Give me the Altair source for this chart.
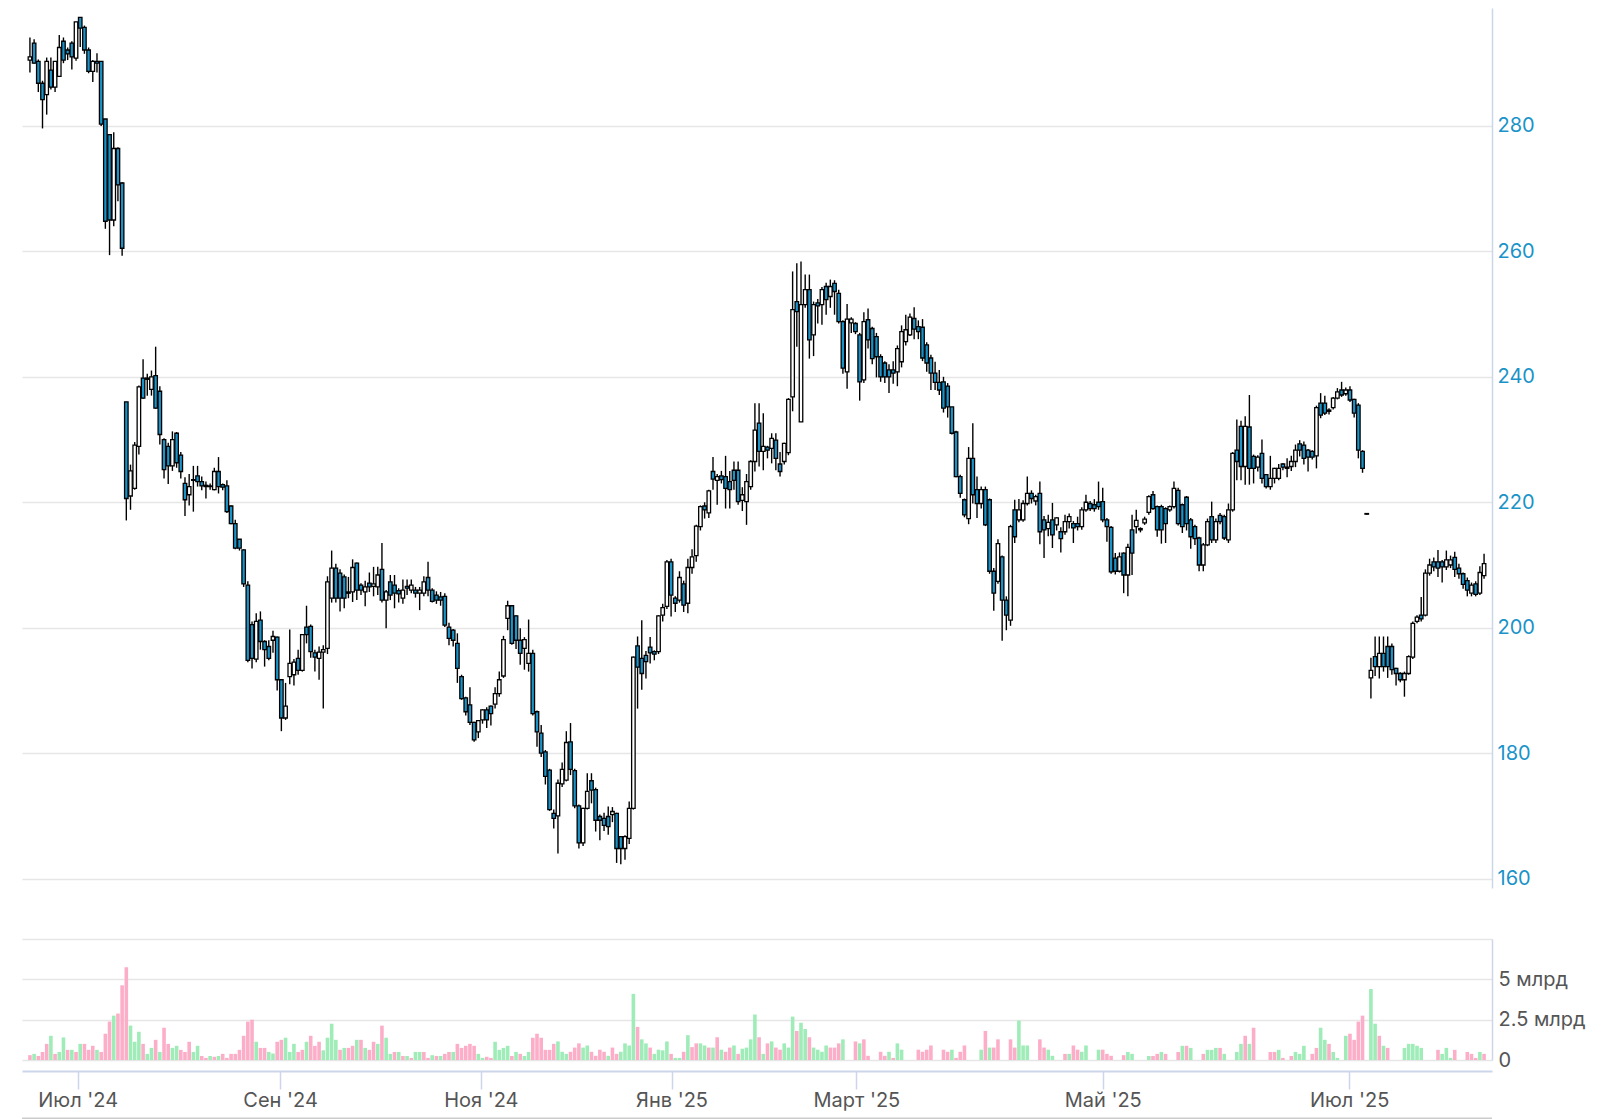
"""Candlestick price chart with volume panel (Jun 2024 - Aug 2025)"""

import altair as alt
import pandas as pd

# --- price candles (one value per trading session) ---
opens = [
    290.5, 293.2, 290.3, 286.8, 285.0, 288.9, 286.2, 287.9, 293.5, 292.1,
    293.2, 290.8, 297.3, 295.7, 292.1, 288.7, 290.3, 290.3, 281.1, 278.6,
    265.0, 276.4, 270.9, 236.0, 221.0, 222.2, 228.9, 239.8, 239.8, 238.0,
    240.2, 237.7, 230.0, 228.9, 225.8, 231.0, 227.5, 223.0, 221.2, 223.6,
    224.2, 223.3, 222.7, 222.6, 222.0, 224.9, 222.8, 222.6, 219.4, 216.6,
    214.1, 212.4, 206.8, 200.5, 195.0, 201.2, 197.8, 197.0, 198.0, 198.5,
    191.7, 185.6, 192.2, 192.5, 195.1, 193.2, 200.1, 200.2, 196.0, 195.1,
    196.1, 196.7, 204.7, 209.5, 208.7, 208.1, 205.7, 205.7, 210.3, 206.8,
    205.7, 207.1, 206.6, 206.5, 209.3, 204.4, 207.3, 206.8, 205.9, 204.7,
    206.6, 206.0, 206.0, 205.5, 205.5, 208.0, 206.0, 205.2, 204.9, 205.0,
    200.1, 199.6, 197.5, 192.2, 188.8, 187.7, 184.9, 183.4, 185.3, 186.9,
    187.5, 187.8, 189.5, 192.3, 201.5, 203.5, 201.9, 198.0, 196.7, 194.3,
    195.9, 186.6, 183.2, 180.2, 177.3, 170.4, 170.0, 175.1, 175.7, 181.8,
    177.2, 171.6, 165.7, 171.2, 175.6, 174.2, 169.9, 169.6, 169.9, 170.2,
    170.4, 166.7, 164.8, 166.4, 171.2, 197.1, 195.1, 195.6, 196.9, 196.2,
    196.2, 202.0, 203.4, 210.5, 204.7, 204.4, 207.0, 203.9, 209.6, 211.5, 216.1, 219.4,
    218.3, 224.9, 223.5, 224.2, 224.1, 223.3, 225.1, 225.1, 220.3, 220.1, 222.5,
    226.5, 232.6, 228.1, 228.8, 228.6, 229.9, 226.1, 226.5, 227.9, 236.8,
    252.0, 232.8, 251.5, 253.9, 246.7, 251.8, 251.5, 254.4, 252.8, 254.9,
    253.3, 248.8, 240.8, 248.6, 248.5, 246.7, 239.5, 249.1, 247.7, 246.4,
    243.2, 242.2, 241.1, 241.1, 240.8, 242.4, 245.6, 246.7, 249.3, 248.0,
    247.9, 245.1, 243.0, 240.6, 239.1, 239.2, 238.5, 235.2, 231.2, 224.1,
    220.4, 217.4, 227.0, 222.0, 219.8, 222.0, 220.4, 209.0, 207.4, 211.3,
    204.4, 201.2, 218.8, 217.2, 217.2, 219.8, 221.4, 220.2, 221.4, 217.2,
    215.8, 217.2, 216.4, 215.3, 215.3, 216.9, 216.6, 216.6, 216.1, 218.8,
    219.8, 219.6, 220.0, 220.1, 217.2, 216.0, 211.1, 209.0, 211.9, 208.4,
    215.6, 216.1, 215.6, 216.7, 218.4, 221.2, 219.3, 219.3, 219.0, 218.8,
    219.3, 221.9, 219.6, 220.8, 217.2, 216.1, 214.3, 210.0, 213.2, 217.7,
    214.0, 217.9, 217.7, 214.0, 218.8, 228.3, 232.1, 225.7, 232.0, 227.3,
    225.6, 227.8, 224.4, 222.5, 223.8, 223.8, 226.1, 225.6, 225.7,
    226.5, 229.3, 229.1, 228.3, 228.1, 227.4, 235.8, 235.8, 234.7,
    235.1, 236.6, 237.9, 237.3, 237.9, 236.4, 235.5, 228.1, 218.1,
    192.0, 195.4, 193.8, 195.9, 197.0, 197.0, 193.5, 192.7, 191.7, 192.7,
    195.3, 201.0, 202.0, 202.0, 208.7, 210.5, 210.5, 210.5, 209.7, 210.0,
    211.2, 209.5, 208.6, 207.5, 205.5, 207.0, 205.5, 208.3,
]
highs = [
    294.1, 293.8, 290.6, 287.2, 290.9, 290.9, 290.3, 294.5, 294.1, 292.5,
    293.5, 296.6, 297.3, 296.0, 292.5, 290.5, 291.6, 290.3, 281.1, 278.6,
    279.0, 276.6, 271.0, 236.0, 226.0, 229.6, 238.6, 242.8, 240.5, 241.0,
    244.8, 238.5, 230.2, 229.5, 231.3, 231.2, 228.0, 224.0, 224.5, 225.8,
    225.8, 224.1, 223.3, 223.0, 225.5, 227.2, 223.0, 223.5, 219.5, 217.2,
    214.1, 212.5, 207.4, 201.0, 202.3, 202.6, 198.0, 198.0, 199.5, 198.6,
    191.8, 191.2, 199.7, 195.0, 196.5, 199.0, 203.5, 200.5, 196.5, 197.0,
    197.2, 208.2, 212.3, 210.2, 209.3, 208.5, 208.1, 210.9, 210.4, 207.1,
    207.5, 208.8, 209.7, 209.7, 213.5, 206.0, 208.4, 208.4, 206.3, 207.7,
    207.7, 207.7, 206.5, 206.5, 208.2, 210.5, 206.3, 205.8, 205.7, 205.5,
    200.8, 199.8, 199.1, 192.5, 189.0, 190.5, 185.0, 185.2, 187.0, 187.3,
    187.6, 190.5, 193.0, 198.7, 204.3, 203.6, 202.0, 199.9, 198.5, 201.3,
    196.5, 186.8, 184.5, 180.5, 177.5, 171.0, 175.8, 178.5, 183.5, 184.8,
    177.5, 171.8, 171.3, 176.8, 176.8, 174.5, 170.2, 170.5, 171.5, 171.4,
    170.5, 166.8, 166.9, 172.3, 195.4, 198.6, 201.2, 196.3, 198.5, 196.4,
    202.0, 203.8, 210.8, 211.0, 205.0, 209.0, 207.5, 211.0, 212.5, 216.4, 219.5, 220.0,
    222.0, 227.2, 224.5, 225.0, 227.4, 225.0, 226.5, 226.5, 222.4, 224.5, 226.7,
    235.8, 235.8, 234.2, 229.0, 231.0, 231.0, 228.0, 229.5, 236.6, 256.8,
    258.1, 258.4, 256.3, 256.3, 252.0, 252.4, 254.3, 255.0, 255.5, 255.4,
    253.9, 249.0, 251.6, 249.5, 248.7, 247.0, 250.3, 250.9, 248.0, 247.0,
    243.6, 242.5, 242.0, 242.5, 245.0, 248.2, 249.9, 250.1, 251.1, 249.0,
    249.2, 245.5, 243.5, 242.4, 241.1, 240.0, 239.0, 235.2, 231.4, 224.4,
    220.6, 228.8, 232.6, 224.1, 222.5, 222.5, 220.6, 209.5, 214.1, 211.5,
    205.0, 216.4, 220.4, 220.5, 220.3, 224.1, 221.9, 221.2, 223.3, 217.8,
    218.0, 219.9, 217.6, 216.0, 218.0, 218.2, 217.0, 217.7, 219.2, 221.2,
    220.2, 220.5, 223.3, 222.3, 217.5, 216.2, 211.9, 212.0, 212.0, 213.4,
    218.0, 218.8, 216.0, 217.7, 221.1, 221.8, 219.5, 219.6, 219.2, 219.5,
    223.3, 222.3, 219.8, 221.0, 217.5, 216.4, 214.5, 213.5, 217.4, 220.1,
    217.4, 218.3, 218.0, 219.8, 228.0, 233.2, 233.0, 233.7, 237.1, 227.6,
    227.5, 230.0, 224.5, 227.4, 225.5, 226.1, 226.2, 227.0, 227.4,
    229.2, 229.9, 229.7, 228.5, 228.3, 235.4, 237.4, 237.0, 235.0,
    236.8, 238.2, 239.2, 238.3, 238.5, 236.5, 235.8, 228.3, 218.2,
    195.2, 198.6, 198.6, 198.6, 198.6, 197.5, 193.6, 192.9, 193.0, 195.6,
    201.0, 202.0, 204.9, 209.3, 211.0, 211.2, 212.4, 210.8, 212.3, 211.5,
    212.1, 210.2, 208.8, 208.0, 207.2, 207.4, 209.8, 211.8,
]
lows = [
    288.5, 289.9, 285.4, 279.6, 281.8, 285.8, 285.4, 287.9, 290.0, 290.5,
    289.0, 290.4, 292.6, 291.5, 288.4, 287.0, 288.5, 280.0, 263.6, 259.4,
    264.0, 268.0, 259.3, 217.1, 218.8, 222.0, 227.6, 236.5, 237.0, 237.0,
    234.9, 229.2, 223.8, 222.9, 225.0, 225.5, 223.8, 217.8, 219.5, 218.5,
    222.5, 221.9, 220.6, 222.0, 221.9, 221.4, 221.9, 218.3, 216.5, 212.5,
    212.3, 206.5, 194.5, 193.5, 194.5, 196.5, 193.8, 194.8, 196.0, 190.0,
    183.5, 185.3, 191.0, 190.8, 192.5, 193.0, 197.5, 195.2, 193.0, 191.7,
    187.1, 195.8, 204.0, 204.0, 202.6, 203.1, 204.7, 204.1, 204.4, 205.2,
    203.4, 205.7, 205.0, 205.2, 204.0, 199.9, 204.4, 203.1, 204.0, 203.8,
    205.2, 205.5, 204.8, 202.8, 205.0, 205.0, 204.0, 203.8, 203.5, 200.1,
    197.2, 197.0, 191.2, 188.5, 186.0, 184.5, 181.8, 182.4, 184.7, 184.0,
    184.4, 187.1, 189.0, 192.0, 199.6, 197.3, 196.6, 194.1, 193.3, 193.0,
    186.0, 181.0, 179.4, 175.0, 170.8, 168.0, 164.0, 174.6, 175.5, 176.5,
    171.2, 164.8, 165.2, 171.0, 172.0, 167.5, 166.1, 167.6, 167.0, 169.0,
    162.5, 162.3, 163.0, 165.5, 171.0, 187.1, 190.1, 191.9, 194.3, 194.8,
    195.8, 201.0, 203.0, 201.8, 202.5, 204.0, 202.5, 202.3, 208.6, 210.5, 215.5, 217.4,
    217.5, 222.0, 219.6, 223.0, 219.0, 219.0, 222.0, 219.6, 218.6, 216.4, 222.0,
    224.9, 225.7, 225.1, 227.0, 226.2, 225.1, 224.1, 226.0, 227.5, 234.5,
    244.8, 232.8, 251.0, 242.9, 243.3, 248.5, 248.3, 249.9, 251.0, 249.9,
    248.5, 240.5, 238.1, 247.0, 246.8, 236.2, 239.0, 244.5, 242.0, 239.9,
    239.2, 239.0, 237.4, 238.9, 238.5, 241.5, 245.0, 246.5, 246.0, 246.0,
    242.5, 240.8, 237.9, 237.9, 237.1, 234.3, 233.5, 230.8, 224.0, 220.7,
    217.6, 216.5, 219.8, 217.5, 219.0, 216.2, 208.6, 202.7, 207.0, 197.9,
    199.6, 200.3, 213.5, 216.8, 216.9, 219.5, 219.8, 219.5, 213.3, 211.1,
    214.6, 212.7, 215.5, 212.0, 214.8, 215.8, 213.5, 215.5, 215.6, 218.5,
    218.6, 218.5, 218.8, 216.8, 213.7, 208.6, 208.5, 208.8, 205.5, 205.0,
    208.4, 215.0, 215.2, 216.4, 218.0, 218.8, 214.5, 213.4, 213.5, 218.5,
    219.0, 216.3, 215.1, 215.5, 212.6, 213.2, 209.0, 209.0, 213.0, 213.5,
    213.5, 216.5, 214.0, 213.5, 218.5, 223.5, 223.5, 222.8, 222.8, 223.0,
    224.9, 223.0, 222.2, 222.0, 223.0, 223.5, 225.1, 224.0, 225.0,
    225.6, 227.3, 226.0, 224.9, 226.8, 225.4, 233.4, 233.9, 234.0,
    234.8, 236.4, 236.8, 237.0, 236.0, 233.5, 227.0, 224.7, 218.0,
    188.7, 192.3, 191.9, 193.0, 192.0, 192.5, 190.8, 191.3, 189.0, 192.5,
    195.0, 200.7, 201.0, 201.8, 208.3, 209.0, 208.1, 207.2, 209.2, 209.5,
    208.1, 207.8, 206.2, 205.0, 205.0, 205.0, 205.2, 207.8,
]
closes = [
    291.0, 290.0, 286.8, 284.2, 290.3, 286.2, 290.3, 292.5, 290.5, 291.5,
    291.0, 296.6, 295.6, 292.1, 288.7, 290.3, 290.0, 280.3, 264.8, 265.0,
    276.4, 270.6, 260.5, 220.6, 225.0, 229.1, 238.4, 236.6, 239.6, 240.0,
    235.0, 230.8, 225.2, 225.8, 230.0, 226.3, 224.9, 220.4, 222.5, 223.5,
    223.3, 222.6, 222.5, 222.5, 224.9, 222.5, 222.4, 218.5, 216.6, 212.7,
    212.7, 207.0, 194.8, 195.1, 201.0, 197.8, 196.5, 195.1, 198.6, 191.7,
    185.6, 187.5, 194.3, 194.5, 193.2, 198.9, 198.9, 196.2, 195.3, 196.1,
    196.5, 207.3, 209.5, 204.7, 204.7, 204.7, 205.5, 209.6, 206.0, 206.0,
    206.5, 206.5, 207.0, 208.4, 204.4, 205.7, 205.2, 205.5, 205.4, 206.0,
    206.3, 206.8, 205.5, 206.0, 207.3, 206.0, 204.2, 204.4, 204.4, 200.4,
    198.3, 198.0, 193.5, 188.7, 186.6, 184.9, 182.1, 185.2, 186.9, 185.3,
    186.3, 189.5, 191.7, 198.1, 203.5, 197.5, 198.0, 195.9, 198.1, 195.9,
    186.3, 183.4, 180.0, 176.3, 171.0, 169.6, 175.2, 177.4, 181.7, 177.4,
    171.6, 165.7, 171.2, 173.9, 174.1, 169.3, 169.3, 168.5, 168.3, 170.7,
    164.8, 164.8, 166.7, 171.2, 195.3, 193.7, 192.7, 194.6, 196.0, 195.8,
    201.9, 203.2, 210.5, 205.2, 203.9, 208.0, 203.6, 209.6, 211.3, 216.2, 219.3, 218.8,
    221.8, 223.7, 224.1, 223.6, 222.2, 222.0, 223.5, 220.1, 221.2, 223.3, 226.5,
    231.5, 228.1, 228.9, 228.3, 230.2, 227.0, 224.9, 229.4, 236.4, 250.7,
    250.4, 251.5, 253.9, 245.9, 251.5, 251.3, 253.9, 252.3, 254.4, 253.6,
    248.8, 241.4, 249.2, 249.2, 247.2, 239.2, 248.8, 245.9, 242.9, 243.2,
    240.0, 240.0, 240.0, 240.6, 244.5, 247.2, 247.5, 249.5, 247.6, 247.2,
    243.0, 242.2, 240.6, 239.1, 237.9, 235.0, 235.2, 231.0, 224.1, 221.4,
    218.0, 227.0, 221.2, 219.8, 222.0, 216.4, 209.0, 205.5, 213.4, 204.4,
    202.0, 216.1, 214.5, 218.8, 219.8, 221.4, 220.6, 220.9, 215.3, 215.6,
    216.8, 214.8, 217.5, 214.2, 216.9, 217.7, 215.9, 216.1, 218.8, 220.0,
    219.0, 219.0, 219.3, 217.2, 216.1, 208.9, 209.0, 211.3, 208.4, 212.8,
    211.9, 217.1, 215.8, 217.3, 220.9, 219.0, 215.6, 215.6, 216.6, 219.3,
    222.2, 216.6, 216.1, 216.6, 214.5, 214.2, 210.0, 213.2, 216.9, 214.0,
    216.9, 216.9, 214.3, 218.8, 227.8, 226.5, 225.7, 232.1, 225.4, 225.4,
    227.2, 223.8, 222.5, 223.8, 225.4, 225.4, 225.6, 225.4, 226.5,
    228.3, 228.3, 227.0, 227.2, 227.2, 235.1, 233.9, 234.2, 234.5,
    236.6, 237.6, 237.1, 237.9, 236.3, 234.2, 228.3, 225.4, 218.2,
    193.2, 193.8, 195.9, 193.8, 193.8, 193.3, 192.7, 191.7, 192.7, 195.4,
    200.7, 201.7, 201.4, 208.7, 210.0, 209.7, 209.5, 209.7, 210.8, 210.8,
    209.3, 208.6, 206.9, 206.0, 206.8, 205.3, 208.8, 210.2,
]

# --- volume, billions; 1 = green bar, 0 = pink bar ---
vols = [
    0.3, 0.38, 0.25, 0.5, 1.0, 1.5, 0.38, 0.5, 1.4, 0.63,
    0.63, 0.5, 1.0, 1.0, 0.63, 0.88, 0.63, 0.5, 1.63, 2.38,
    2.75, 2.88, 4.63, 5.75, 2.13, 1.13, 1.75, 1.0, 0.38, 0.75,
    1.25, 0.5, 2.0, 1.0, 0.75, 0.88, 0.63, 0.5, 1.13, 0.5,
    0.88, 0.25, 0.13, 0.25, 0.2, 0.25, 0.38, 0.13, 0.38, 0.38,
    0.63, 1.5, 2.38, 2.5, 1.13, 0.75, 0.75, 0.5, 0.4, 1.13,
    1.25, 1.38, 0.5, 1.0, 0.5, 0.63, 1.13, 1.5, 0.88, 1.13,
    0.6, 1.38, 2.25, 1.25, 0.63, 0.75, 0.75, 0.88, 1.25, 1.25,
    0.75, 0.63, 1.13, 1.0, 2.13, 1.38, 0.38, 0.5, 0.5, 0.25,
    0.25, 0.13, 0.5, 0.5, 0.5, 0.13, 0.3, 0.25, 0.25, 0.38,
    0.5, 0.5, 1.0, 0.75, 0.88, 1.0, 0.88, 0.38, 0.13, 0.2,
    0.13, 1.13, 0.63, 0.75, 0.88, 0.25, 0.5, 0.38, 0.25, 0.5,
    1.38, 1.63, 1.38, 0.63, 0.63, 1.0,
    1.15, 0.51, 0.38, 0.51, 0.77, 1.03, 0.77, 0.9, 0.51, 0.26,
    0.64, 0.51, 0.26, 0.77, 0.38, 0.51, 1.03, 0.9, 4.1, 2.05,
    1.28, 1.03, 0.77, 0.38, 0.64, 0.6, 1.15, 0.38, 0.13, 0.13, 0.51,
    1.54, 0.8, 1.03, 1.03, 0.9, 0.77, 0.77, 1.41, 0.64, 0.51, 0.77,
    0.9, 0.38, 0.7, 0.77, 1.28, 2.82, 1.41, 0.38, 1.03, 1.15, 0.77,
    0.64, 1.03, 0.77, 2.69, 1.8, 2.31, 1.92, 1.41, 0.77, 0.64,
    0.51, 0.9, 0.77, 0.77, 1.03, 1.28, 0, 0, 1.15, 1.03,
    1.28, 0.26, 0, 0, 0.51, 0.26, 0.51, 0.13, 1.03, 0.64,
    0, 0, 0, 0.64, 0.51, 0.64, 0.9, 0, 0, 0.64,
    0.51, 0.64, 0.13, 0.51, 0.9, 0, 0, 0, 0.64, 1.8,
    0.77, 0.77, 1.28, 0, 0, 1.28, 0.77, 2.44, 0.9, 0.9,
    0, 0, 1.28, 0.77, 0.64, 0.26, 0, 0, 0.38, 0.38,
    0.9, 0.64, 0.51, 0.9, 0, 0, 0.64, 0.64, 0.38, 0.26,
    0, 0, 0.3,
    0.5, 0.38, 0, 0, 0, 0.25, 0.25, 0.38, 0.5, 0.38,
    0, 0, 0.5, 0.88, 0.88, 0.75, 0, 0, 0.38, 0.63,
    0.63, 0.75, 0.75, 0.38, 0, 0, 0.5, 1.0, 1.5, 1.0,
    2.0, 0, 0, 0, 0.5, 0.5, 0.63, 0.13, 0,
    0.25, 0.5, 0.38, 0.88, 0, 0.38, 0.75, 2.0, 1.25,
    1.0, 0.5, 0.13, 0, 1.5, 1.63, 1.25, 2.38, 2.75,
    0, 4.4, 2.25, 1.5, 0.88, 0.75, 0, 0, 0, 0.75,
    1.0, 1.0, 0.88, 0.75, 0, 0, 0, 0.63, 0.38, 0.75,
    0.13, 0.63, 0, 0, 0.5, 0.38, 0.13, 0.5, 0.38,
]
vol_up = [
    0, 1, 0, 0, 0, 1, 0, 1, 1, 0,
    1, 0, 1, 0, 0, 0, 1, 0, 0, 0,
    1, 0, 0, 0, 1, 1, 1, 0, 1, 1,
    0, 1, 0, 0, 1, 1, 0, 0, 0, 1,
    1, 0, 0, 1, 0, 1, 0, 0, 0, 0,
    0, 0, 0, 0, 1, 0, 0, 1, 1, 0,
    0, 1, 1, 1, 0, 0, 1, 0, 0, 0,
    1, 1, 1, 1, 0, 1, 0, 0, 1, 0,
    1, 0, 0, 1, 0, 1, 1, 0, 1, 0,
    1, 0, 1, 1, 0, 0, 1, 0, 1, 0,
    0, 1, 0, 0, 0, 0, 0, 1, 1, 0,
    0, 1, 1, 1, 1, 0, 1, 0, 1, 1,
    0, 0, 0, 0, 0, 0,
    1, 1, 1, 0, 0, 0, 1, 1, 0, 0,
    0, 0, 1, 0, 0, 1, 1, 1, 1, 0,
    1, 1, 0, 1, 1, 1, 1, 0, 1, 1, 0,
    1, 0, 0, 1, 1, 0, 1, 0, 1, 0, 0,
    1, 0, 1, 1, 1, 1, 0, 1, 0, 1, 0,
    0, 1, 1, 1, 0, 1, 1, 0, 1, 1,
    1, 1, 0, 0, 0, 1, 1, 1, 0, 1,
    0, 0, 1, 1, 0, 0, 1, 0, 1, 1,
    1, 1, 1, 0, 0, 0, 0, 1, 1, 0,
    0, 1, 0, 0, 0, 1, 1, 1, 1, 0,
    1, 0, 0, 1, 1, 0, 0, 1, 1, 1,
    1, 1, 0, 0, 1, 1, 1, 1, 0, 1,
    0, 0, 1, 1, 1, 1, 1, 0, 0, 0,
    1, 1, 0,
    1, 1, 1, 1, 1, 1, 0, 0, 1, 0,
    1, 1, 0, 1, 0, 1, 1, 1, 0, 1,
    1, 1, 0, 1, 1, 1, 1, 1, 0, 1,
    0, 1, 1, 1, 0, 0, 1, 0, 1,
    0, 1, 1, 1, 1, 0, 0, 1, 1,
    0, 1, 1, 1, 1, 0, 0, 0, 0,
    1, 1, 1, 0, 1, 0, 1, 1, 1, 1,
    1, 1, 1, 1, 1, 1, 1, 0, 1, 1,
    1, 0, 1, 1, 0, 0, 0, 1, 0,
]

# month ticks (position on the session axis) and their labels
tick_pos = [11.4, 59.7, 107.6, 153.1, 197.2, 256.0, 314.8]
tick_labels = ["Июл '24", "Сен '24", "Ноя '24", "Янв '25", "Март '25", "Май '25", "Июл '25"]
price_ticks = [160, 180, 200, 220, 240, 260, 280]
vol_ticks = [0, 2.5, 5, 7.5]

n = len(closes)
candles = pd.DataFrame({"i": range(n), "open": opens, "high": highs, "low": lows, "close": closes})
candles["dir"] = ["up" if c >= o else "down" for o, c in zip(opens, closes)]
volume = pd.DataFrame({"i": range(n), "vol": vols, "dir": ["up" if u else "down" for u in vol_up]})

FONT = "Inter"
AXIS_LINE = "#ccd6eb"
GRID = "#e6e6e6"
BLUE = "#1a93c8"

x_scale = alt.Scale(domain=[-0.7, 347.7], nice=False, zero=False)
y_scale = alt.Scale(domain=[158.5, 298.8], nice=False, zero=False)

label_expr = " : ".join(f"datum.value == {p} ? \"{l}\"" for p, l in zip(tick_pos, tick_labels)) + " : ''"

base = alt.Chart(candles).encode(x=alt.X("i:Q", scale=x_scale, axis=None))

wicks = base.mark_rule(color="#000000", strokeWidth=1.4).encode(
    y=alt.Y(
        "low:Q",
        scale=y_scale,
        axis=alt.Axis(
            orient="right", values=price_ticks, ticks=False, title=None,
            labelColor=BLUE, labelPadding=5, labelFontSize=20, labelFont=FONT,
            domainColor=AXIS_LINE, domainWidth=1.5, gridColor=GRID, gridWidth=1.5,
        ),
    ),
    y2="high:Q",
)
bodies = base.mark_bar(size=3.5, stroke="#000000", strokeWidth=1.3).encode(
    y=alt.Y("open:Q", scale=y_scale),
    y2="close:Q",
    fill=alt.Fill("dir:N", scale=alt.Scale(domain=["up", "down"], range=["#ffffff", BLUE]), legend=None),
)
price = alt.layer(wicks, bodies).properties(width=1470, height=880)

vol_bars = alt.Chart(volume).mark_bar(size=3.6).encode(
    x=alt.X(
        "i:Q",
        scale=x_scale,
        axis=alt.Axis(
            values=tick_pos, labelExpr=label_expr, title=None, grid=False, offset=11,
            tickSize=18, tickColor=AXIS_LINE, tickWidth=1.5, domainColor=AXIS_LINE, domainWidth=2,
            labelColor="#555555", labelFontSize=20, labelFont=FONT, labelPadding=1, labelFlush=False,
        ),
    ),
    y=alt.Y(
        "vol:Q",
        scale=alt.Scale(domain=[0, 7.5], nice=False),
        axis=alt.Axis(
            orient="right", values=vol_ticks, ticks=False, title=None,
            labelExpr="datum.value == 0 ? '0' : (datum.value > 6 ? '' : format(datum.value, '~g') + ' млрд')",
            labelColor="#555555", labelPadding=6, labelFontSize=20, labelFont=FONT,
            domainColor=AXIS_LINE, domainWidth=1.5, gridColor=GRID, gridWidth=1.5,
        ),
    ),
    color=alt.Color("dir:N", scale=alt.Scale(domain=["up", "down"], range=["#9fecb8", "#fcaec9"]), legend=None),
)
bottom_line = alt.Chart(pd.DataFrame({"a": [0]})).mark_rule(color="#cccccc", strokeWidth=2).encode(
    x=alt.value(0), x2=alt.value(1470), y=alt.value(179.5)
)
vol_chart = alt.layer(vol_bars, bottom_line).properties(width=1470, height=121)

chart = alt.vconcat(price, vol_chart, spacing=50).properties(
    padding={"left": 13, "top": 0, "right": 5, "bottom": 0}
).configure_view(stroke=None)

chart.save("out.html", embed_options={"renderer": "svg", "actions": False})
